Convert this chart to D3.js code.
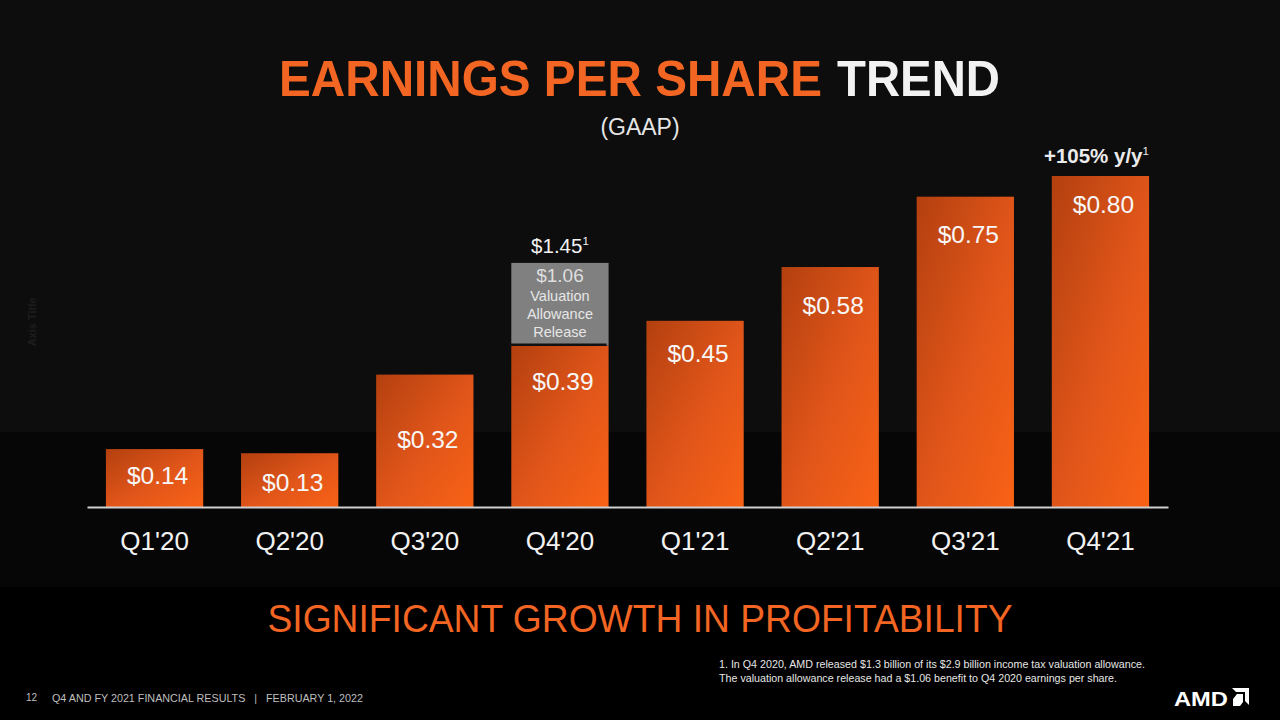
<!DOCTYPE html>
<html><head><meta charset="utf-8">
<script src="https://cdn.jsdelivr.net/npm/d3@7"></script>
<style>html,body{margin:0;padding:0;background:#000;}svg{display:block;}</style>
</head><body><svg id="c" width="1280" height="720"></svg>
<script>
// ---- data ----
const quarters = ["Q1'20","Q2'20","Q3'20","Q4'20","Q1'21","Q2'21","Q3'21","Q4'21"];
const eps = [0.14,0.13,0.32,0.39,0.45,0.58,0.75,0.80];
const epsLabels = ["$0.14","$0.13","$0.32","$0.39","$0.45","$0.58","$0.75","$0.80"];
// Q4'20 valuation allowance release ($1.06), drawn truncated on the slide (~0.20 of scale)
const vaQuarter = "Q4'20";
const vaValue = 1.06;
const vaShown = 0.20;
const vaLines = ["$1.06","Valuation","Allowance","Release"];
const vaTotalLabel = "$1.45";
const growthLabel = "+105% y/y";

// ---- layout (label baseline offset below each bar top, px) ----
const labelDy = [35,38,73,44,41,47,46,37];

const svg = d3.select("#c");
const W = 1280, H = 720;
const font = "'Liberation Sans',Arial,sans-serif";

// background bands
svg.append("rect").attr("width",W).attr("height",H).attr("fill","#000");
svg.append("rect").attr("width",W).attr("height",432).attr("fill","#0d0d0d");
svg.append("rect").attr("y",432).attr("width",W).attr("height",155).attr("fill","#060606");

const defs = svg.append("defs");
const g = defs.append("linearGradient").attr("id","bg").attr("x1",0).attr("y1",0).attr("x2",1).attr("y2",1);
g.append("stop").attr("offset","0%").attr("stop-color","#b3400f");
g.append("stop").attr("offset","55%").attr("stop-color","#e2561a");
g.append("stop").attr("offset","100%").attr("stop-color","#f86215");

// title (two text runs)
const tFont = "'Liberation Sans Narrow','Liberation Sans',Arial,sans-serif";
svg.append("text").attr("x",279).attr("y",96).attr("font-family",tFont).attr("font-weight","bold")
  .attr("font-size",50).attr("fill","#f26522").attr("textLength",543).attr("lengthAdjust","spacingAndGlyphs")
  .text("EARNINGS PER SHARE");
svg.append("text").attr("x",837).attr("y",96).attr("font-family",tFont).attr("font-weight","bold")
  .attr("font-size",50).attr("fill","#f2f2f2").attr("textLength",163).attr("lengthAdjust","spacingAndGlyphs")
  .text("TREND");
svg.append("text").attr("x",640).attr("y",135).attr("text-anchor","middle")
  .attr("font-family",font).attr("font-size",23).attr("fill","#e6e6e6").text("(GAAP)");

// axis title (faint)
svg.append("text").attr("transform","translate(36,322) rotate(-90)").attr("text-anchor","middle")
  .attr("font-family",font).attr("font-weight","bold").attr("font-size",11)
  .attr("fill","#1d1d1d").text("Axis Title");

// scales
const x = d3.scaleBand().domain(quarters).range([87,1168]).paddingInner(0.28).paddingOuter(0.14);
const y = d3.scaleLinear().domain([0,0.80]).range([507,176]);

// bars
svg.append("g").selectAll("rect").data(quarters).join("rect")
  .attr("x",d=>x(d)).attr("width",x.bandwidth())
  .attr("y",(d,i)=>y(eps[i])).attr("height",(d,i)=>y(0)-y(eps[i]))
  .attr("fill","url(#bg)");

svg.append("g").selectAll("text").data(quarters).join("text")
  .attr("x",d=>x(d)+x.bandwidth()/2+3).attr("y",(d,i)=>y(eps[i])+labelDy[i])
  .attr("text-anchor","middle").attr("font-family",font).attr("font-size",24.5).attr("fill","#f7f7f7")
  .text((d,i)=>epsLabels[i]);

// Q4'20 stacked VA segment
const vi = quarters.indexOf(vaQuarter);
const vTop = y(eps[vi]+vaShown), vBot = y(eps[vi]);
svg.append("rect").attr("x",x(vaQuarter)).attr("width",x.bandwidth())
  .attr("y",vTop).attr("height",vBot-vTop).attr("fill","#808080");
svg.append("line").attr("x1",x(vaQuarter)-3).attr("x2",x(vaQuarter)+x.bandwidth()-2)
  .attr("y1",vBot-1).attr("y2",vBot-1).attr("stroke","#111").attr("stroke-width",2.5);
const vcx = x(vaQuarter)+x.bandwidth()/2;
svg.append("text").attr("x",vcx).attr("y",vTop+19).attr("text-anchor","middle")
  .attr("font-family",font).attr("font-size",19).attr("fill","#dedede").text(vaLines[0]);
vaLines.slice(1).forEach((s,k)=>{
  svg.append("text").attr("x",vcx).attr("y",vTop+38+k*18).attr("text-anchor","middle")
    .attr("font-family",font).attr("font-size",14.5).attr("fill","#e6e6e6").text(s);
});
const tl = svg.append("text").attr("x",vcx).attr("y",vTop-10).attr("text-anchor","middle")
  .attr("font-family",font).attr("font-size",20.5).attr("fill","#f2f2f2");
tl.append("tspan").text(vaTotalLabel);
tl.append("tspan").attr("font-size",11.5).attr("dy",-8).text("1");

// growth label
const lq = quarters[quarters.length-1];
const gl = svg.append("text").attr("x",x(lq)+x.bandwidth()/2-4).attr("y",y(eps[eps.length-1])-13)
  .attr("text-anchor","middle").attr("font-family",font).attr("font-weight","bold").attr("font-size",20.5).attr("fill","#ebebeb");
gl.append("tspan").text(growthLabel);
gl.append("tspan").attr("font-size",11.5).attr("font-weight","normal").attr("dy",-8).text("1");

// x axis
const ax = svg.append("g").attr("transform","translate(0,507)").call(d3.axisBottom(x).tickSize(0).tickPadding(18));
ax.select(".domain").attr("stroke","#d0d0d0").attr("stroke-width",2);
ax.selectAll("text").attr("font-family",font).attr("font-size",26).attr("fill","#f2f2f2").attr("dy","0.95em");

// subtitle
svg.append("text").attr("x",640).attr("y",632).attr("text-anchor","middle")
  .attr("font-family",font).attr("font-size",38).attr("fill","#f26522")
  .attr("textLength",745).attr("lengthAdjust","spacingAndGlyphs").text("SIGNIFICANT GROWTH IN PROFITABILITY");

// footnote
svg.append("text").attr("x",719).attr("y",668).attr("font-family",font).attr("font-size",10.3).attr("fill","#e6e6e6")
  .attr("textLength",426).attr("lengthAdjust","spacingAndGlyphs")
  .text("1. In Q4 2020, AMD released $1.3 billion of its $2.9 billion income tax valuation allowance.");
svg.append("text").attr("x",719).attr("y",682).attr("font-family",font).attr("font-size",10.3).attr("fill","#e6e6e6")
  .attr("textLength",398).attr("lengthAdjust","spacingAndGlyphs")
  .text("The valuation allowance release had a $1.06 benefit to Q4 2020 earnings per share.");

// footer
svg.append("text").attr("x",26).attr("y",701).attr("font-family",font).attr("font-size",10).attr("fill","#bfbfbf").text("12");
svg.append("text").attr("x",52).attr("y",702).attr("font-family",font).attr("font-size",10.8).attr("fill","#bfbfbf")
  .attr("xml:space","preserve").attr("textLength",311).attr("lengthAdjust","spacingAndGlyphs")
  .text("Q4 AND FY 2021 FINANCIAL RESULTS   |   FEBRUARY 1, 2022");

// AMD logo
svg.append("text").attr("x",1174).attr("y",706).attr("font-family",font).attr("font-weight","bold").attr("font-size",21)
  .attr("fill","#fff").attr("textLength",54).attr("lengthAdjust","spacingAndGlyphs").text("AMD");
svg.append("path").attr("fill","#fff")
  .attr("d","M1232,688 L1249,688 L1249,705 L1245,701 L1245,692 L1236,692 Z M1243,694 L1243,702 L1240,706 L1233,706 L1233,699 L1237,694 Z");
</script></body></html>
